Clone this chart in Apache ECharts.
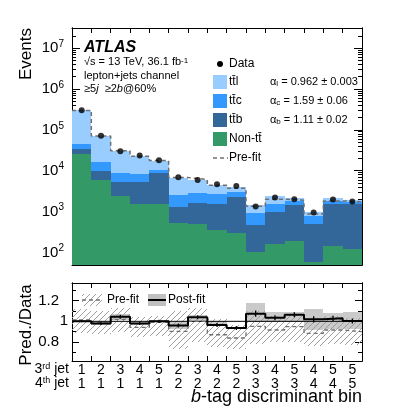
<!DOCTYPE html>
<html><head><meta charset="utf-8">
<script src="https://cdn.jsdelivr.net/npm/echarts@6/dist/echarts.min.js"></script>
<style>html,body{margin:0;padding:0;background:#fff}#c{width:399px;height:411px}</style>
</head><body><div id="c"></div>
<script>
// ---------------- data ----------------
const thirdJet  = [1,2,3,4,5,2,3,4,5,3,4,5,4,5,5];
const fourthJet = [1,1,1,1,1,2,2,2,2,3,3,3,4,4,5];
// post-fit stacked yields (Events)
const nonTT = [26300, 6100, 2430, 1580, 1520, 515, 495, 354, 294, 105, 161, 190, 60, 144, 122];
const ttb   = [7100, 4000, 2930, 3780, 7330, 795, 1135, 1226, 2006, 355, 811, 1250, 444, 1356, 1458];
const ttc   = [10900, 6000, 3640, 2840, 1850, 1210, 1250, 1170, 740, 444, 548, 360, 272, 300, 170];
const ttl   = [254700, 54500, 22000, 14400, 7000, 4280, 3220, 1850, 860, 516, 870, 370, 212, 300, 150];
const preFit   = [299000, 70600, 31000, 22600, 17700, 6800, 6100, 4400, 3740, 1360, 2020, 1900, 869, 1830, 1730];
const dataVals = [300000, 72000, 29900, 23500, 18000, 6900, 5900, 4700, 4260, 1340, 2220, 2020, 955, 1990, 1770];
// ratio panel
const ratioPost = [1.0, 0.98, 1.045, 0.98, 1.0, 0.96, 1.04, 0.965, 0.935, 1.074, 1.035, 1.064, 1.019, 1.029, 1.003];
const ratioErr  = [0.01, 0.015, 0.02, 0.015, 0.015, 0.02, 0.02, 0.02, 0.02, 0.03, 0.025, 0.025, 0.03, 0.025, 0.025];
const postLo    = [0.99, 0.965, 1.01, 0.965, 0.99, 0.93, 1.0, 0.955, 0.925, 0.99, 0.99, 0.99, 0.92, 0.93, 0.93];
const postHi    = [1.01, 0.995, 1.075, 0.995, 1.01, 0.99, 1.06, 1.005, 0.945, 1.18, 1.09, 1.09, 1.12, 1.08, 1.09];
const ratioPre  = [1.013, 0.985, 1.019, 0.941, 0.99, 0.903, 1.0, 0.87, 0.838, 0.951, 0.916, 0.948, 0.883, 0.916, 0.9];
const preLo     = [0.89, 0.88, 0.9, 0.85, 0.86, 0.73, 0.8, 0.75, 0.73, 0.78, 0.8, 0.8, 0.76, 0.78, 0.77];
const preHi     = [1.12, 1.1, 1.13, 1.04, 1.05, 1.1, 1.13, 1.02, 0.96, 1.1, 1.05, 1.07, 1.0, 1.05, 1.03];
const unity = 1;
// axis ticks
const yMajor = [1e2, 1e3, 1e4, 1e5, 1e6, 1e7];
const rMajor = [0.8, 1, 1.2];
const rMajorOuter = [0.8, 1.2];
const rUnityLabel = [1];
const rMinor = [0.7, 0.9, 1.1, 1.3];
const alphaTexts = [['l','0.962 ± 0.003'], ['c','1.59 ± 0.06'], ['b','1.11 ± 0.02']];

// ---------------- setup ----------------
const N = thirdJet.length;
const Y_MIN = 49.5, Y_MAX = 3.1e7;
const R_MIN = 0.615, R_MAX = 1.372;
const FONT = '"Liberation Sans", Arial, Helvetica, sans-serif';
const COLORS = {nonTT:'#339966', ttb:'#336699', ttc:'#3399ff', ttl:'#99ccff'};
const yMinor = [];
for (let e = 1; e <= 7; e++) for (let k = 2; k <= 9; k++) { const v = k * Math.pow(10, e); if (v > Y_MIN && v < Y_MAX) yMinor.push(v); }
const binCenters = thirdJet.map((_, i) => i + 0.5);

function hatchCanvas() {
  const c = document.createElement('canvas'); c.width = 6; c.height = 6;
  const g = c.getContext('2d');
  g.strokeStyle = '#a0a0a0'; g.lineWidth = 1;
  g.beginPath();
  g.moveTo(0, 6); g.lineTo(6, 0);
  g.moveTo(-1, 1); g.lineTo(1, -1);
  g.moveTo(5, 7); g.lineTo(7, 5);
  g.stroke();
  return c;
}
const HATCH = {image: hatchCanvas(), repeat: 'repeat'};

function rectRenderer(fill) {
  return function (params, api) {
    const i = api.value(0), lo = api.value(1), hi = api.value(2);
    const a = api.coord([i, hi]), b = api.coord([i + 1, lo]);
    const cs = params.coordSys;
    const x0 = Math.round(a[0]), x1 = Math.round(b[0]);
    const top = Math.round(Math.max(Math.min(a[1], b[1]), cs.y));
    const bot = Math.round(Math.min(Math.max(a[1], b[1]), cs.y + cs.height));
    return {type: 'rect', shape: {x: x0, y: top, width: x1 - x0, height: Math.max(0, bot - top)}, style: {fill: fill}};
  };
}
function stepData(arr) {
  const d = arr.map((v, i) => [i, v]);
  d.push([N, arr[N - 1]]);
  return d;
}

// stacked components
const comps = [['Non-tt', nonTT, COLORS.nonTT], ['ttb', ttb, COLORS.ttb], ['ttc', ttc, COLORS.ttc], ['ttl', ttl, COLORS.ttl]];
const cum = nonTT.map(() => 0);
const series = [];
comps.forEach(([name, arr, col], k) => {
  const data = arr.map((v, i) => {
    const lo = k === 0 ? Y_MIN : cum[i];
    cum[i] += v;
    return [i, lo, cum[i]];
  });
  series.push({type: 'custom', name: name, xAxisIndex: 0, yAxisIndex: 0, z: 2, renderItem: rectRenderer(col), data: data, silent: true});
});
series.push({type: 'line', name: 'Pre-fit', xAxisIndex: 0, yAxisIndex: 0, z: 3, step: 'end', symbol: 'none',
  data: stepData(preFit), lineStyle: {color: '#707070', width: 1.5, type: [4, 3]}, silent: true});
series.push({type: 'scatter', name: 'Data', xAxisIndex: 0, yAxisIndex: 0, z: 5, symbolSize: 6,
  itemStyle: {color: '#000'}, data: dataVals.map((v, i) => [i + 0.5, v]), silent: true});

// ratio panel
series.push({type: 'custom', name: 'preband', xAxisIndex: 2, yAxisIndex: 4, z: 1, renderItem: rectRenderer(HATCH),
  data: preLo.map((v, i) => [i, v, preHi[i]]), silent: true});
series.push({type: 'custom', name: 'postband', xAxisIndex: 2, yAxisIndex: 4, z: 2, renderItem: rectRenderer('rgba(150,150,150,0.5)'),
  data: postLo.map((v, i) => [i, v, postHi[i]]), silent: true});
series.push({type: 'line', name: 'unity', xAxisIndex: 2, yAxisIndex: 4, z: 3, symbol: 'none',
  data: [[0, unity], [N, unity]], lineStyle: {color: '#000', width: 1}, silent: true});
series.push({type: 'line', name: 'prefit ratio', xAxisIndex: 2, yAxisIndex: 4, z: 4, step: 'end', symbol: 'none',
  data: stepData(ratioPre), lineStyle: {color: '#707070', width: 1.3, type: [4, 3]}, silent: true});
series.push({type: 'line', name: 'postfit ratio', xAxisIndex: 2, yAxisIndex: 4, z: 5, step: 'end', symbol: 'none',
  data: stepData(ratioPost), lineStyle: {color: '#000', width: 2}, silent: true});
series.push({type: 'custom', name: 'err', xAxisIndex: 2, yAxisIndex: 4, z: 6,
  data: ratioPost.map((v, i) => [i + 0.5, v, ratioErr[i]]), silent: true,
  renderItem: function (params, api) {
    const x = api.value(0), r = api.value(1), e = api.value(2);
    const p1 = api.coord([x, r - e]), p2 = api.coord([x, r + e]);
    return {type: 'line', shape: {x1: p1[0], y1: p1[1], x2: p2[0], y2: p2[1]}, style: {stroke: '#000', lineWidth: 1.3}};
  }});

// ---------------- axes ----------------
const AX_LINE = {show: true, onZero: false, lineStyle: {color: '#000', width: 1}};
function xAx(grid, pos, label) {
  return {type: 'value', gridIndex: grid, position: pos, min: 0, max: N, interval: 1,
    axisLine: AX_LINE, axisTick: {show: true, inside: true, length: 5, lineStyle: {color: '#000'}},
    axisLabel: label || {show: false}, splitLine: {show: false}};
}
function yAx(grid, pos, log, ticks, len, label) {
  const a = {type: log ? 'log' : 'value', gridIndex: grid, position: pos,
    min: log ? Y_MIN : R_MIN, max: log ? Y_MAX : R_MAX,
    axisLine: AX_LINE, axisTick: {show: true, inside: true, length: len, customValues: ticks, lineStyle: {color: '#000'}},
    axisLabel: label || {show: false}, splitLine: {show: false}};
  if (log) a.logBase = 10;
  return a;
}
const xLabels = {show: true, customValues: binCenters, margin: 2, color: '#000', fontFamily: FONT, fontSize: 14, lineHeight: 14,
  formatter: v => { const i = Math.floor(v); return thirdJet[i] + '\n' + fourthJet[i]; }};
const yLabels = {show: true, customValues: yMajor, margin: 8, color: '#000',
  formatter: v => '{b|10}{s|' + Math.round(Math.log10(v)) + '}',
  rich: {b: {fontFamily: FONT, fontSize: 15, color: '#000', lineHeight: 18},
         s: {fontFamily: FONT, fontSize: 10, color: '#000', lineHeight: 10, verticalAlign: 'top'}}};
const rLabelsOuter = {show: true, customValues: rMajorOuter, margin: 13, color: '#000', fontFamily: FONT, fontSize: 15,
  formatter: v => v.toFixed(1)};
const rLabelUnity = {show: true, customValues: rUnityLabel, margin: 4, color: '#000', fontFamily: FONT, fontSize: 15,
  formatter: v => String(v)};

const option = {
  animation: false,
  backgroundColor: '#fff',
  grid: [
    {left: 72, right: 37, top: 28, height: 237, outerBoundsMode: 'none', containLabel: false},
    {left: 72, right: 37, top: 283, height: 78, outerBoundsMode: 'none', containLabel: false}
  ],
  xAxis: [xAx(0, 'bottom'), xAx(0, 'top'), xAx(1, 'bottom', xLabels), xAx(1, 'top')],
  yAxis: [
    yAx(0, 'left', true, yMajor, 8, yLabels),
    yAx(0, 'left', true, yMinor, 4),
    yAx(0, 'right', true, yMajor, 8),
    yAx(0, 'right', true, yMinor, 4),
    yAx(1, 'left', false, rMajor, 7, rLabelsOuter),
    yAx(1, 'left', false, rMinor, 4, rLabelUnity),
    yAx(1, 'right', false, rMajor, 7),
    yAx(1, 'right', false, rMinor, 4)
  ],
  series: series,
  graphic: []
};

// ---------------- texts & legends ----------------
const G = option.graphic;
function txt(x, y, text, size, extra) {
  const st = Object.assign({text: text, x: 0, y: 0, fill: '#000', fontFamily: FONT, fontSize: size,
    textAlign: 'left', textVerticalAlign: 'middle', align: 'left', verticalAlign: 'middle'}, extra || {});
  G.push({type: 'text', x: x, y: y, z: 100, silent: true, style: st});
}
txt(84, 48, 'ATLAS', 16, {fontWeight: 'bold', fontStyle: 'italic'});
txt(84, 62, '√s = 13 TeV, 36.1 fb{s|-1}', 11, {rich: {s: {fontFamily: FONT, fontSize: 8, verticalAlign: 'top', lineHeight: 8}}});
txt(84, 76, 'lepton+jets channel', 11);
txt(84, 89, '≥5{i|j}  ≥2{i|b}@60%', 11, {rich: {i: {fontFamily: FONT, fontSize: 11, fontStyle: 'italic'}}});

// main legend
G.push({type: 'circle', shape: {cx: 220, cy: 64, r: 3}, style: {fill: '#000'}, z: 100, silent: true});
txt(229, 64, 'Data', 12);
const legRows = [['tt\u0304l', COLORS.ttl, 82], ['tt\u0304c', COLORS.ttc, 101], ['tt\u0304b', COLORS.ttb, 120], ['Non-tt\u0304', COLORS.nonTT, 139]];
legRows.forEach(([name, col, y]) => {
  G.push({type: 'rect', shape: {x: 213, y: y - 7, width: 14, height: 14}, style: {fill: col}, z: 100, silent: true});
  txt(229, y, name, 12);
});
alphaTexts.forEach(([sub, val], k) => {
  txt(270, legRows[k][2], 'α{u|' + sub + '} = ' + val, 11,
    {rich: {u: {fontFamily: FONT, fontSize: 8, verticalAlign: 'bottom', lineHeight: 8}}});
});
G.push({type: 'line', shape: {x1: 213, y1: 158, x2: 228, y2: 158}, style: {stroke: '#707070', lineWidth: 1.5, lineDash: [4, 3]}, z: 100, silent: true});
txt(229, 158, 'Pre-fit', 12);

// ratio legend
G.push({type: 'rect', shape: {x: 82, y: 294, width: 20, height: 12}, style: {fill: HATCH}, z: 100, silent: true});
G.push({type: 'line', shape: {x1: 82, y1: 300, x2: 102, y2: 300}, style: {stroke: '#707070', lineWidth: 1.3, lineDash: [4, 3]}, z: 101, silent: true});
txt(107, 300, 'Pre-fit', 12);
G.push({type: 'rect', shape: {x: 148, y: 294, width: 18, height: 12}, style: {fill: 'rgba(150,150,150,0.6)'}, z: 100, silent: true});
G.push({type: 'line', shape: {x1: 148, y1: 300, x2: 166, y2: 300}, style: {stroke: '#000', lineWidth: 2}, z: 101, silent: true});
txt(168, 300, 'Post-fit', 12);

// axis titles
G.push({type: 'text', x: 26, y: 28, rotation: Math.PI / 2, z: 100, silent: true,
  style: {text: 'Events', fill: '#000', fontFamily: FONT, fontSize: 17, textAlign: 'right', textVerticalAlign: 'middle', align: 'right', verticalAlign: 'middle'}});
G.push({type: 'text', x: 26, y: 325, rotation: Math.PI / 2, z: 100, silent: true,
  style: {text: 'Pred./Data', fill: '#000', fontFamily: FONT, fontSize: 17, textAlign: 'center', textVerticalAlign: 'middle', align: 'center', verticalAlign: 'middle'}});
txt(69, 369, '3{s|rd} jet', 14, {textAlign: 'right', align: 'right', rich: {s: {fontFamily: FONT, fontSize: 9, verticalAlign: 'top', lineHeight: 9}}});
txt(69, 383, '4{s|th} jet', 14, {textAlign: 'right', align: 'right', rich: {s: {fontFamily: FONT, fontSize: 9, verticalAlign: 'top', lineHeight: 9}}});
txt(362, 397, '{i|b}-tag discriminant bin', 18, {textAlign: 'right', align: 'right', rich: {i: {fontFamily: FONT, fontSize: 18, fontStyle: 'italic'}}});

const chart = echarts.init(document.getElementById('c'), null, {renderer: 'canvas', width: 399, height: 411});
chart.setOption(option);
</script>
</body></html>
